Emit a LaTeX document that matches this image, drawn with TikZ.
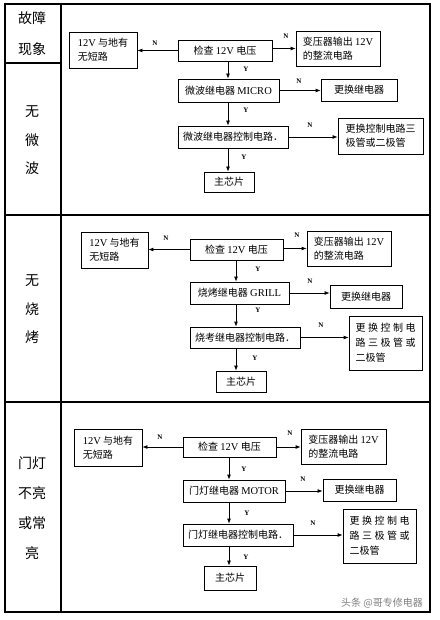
\documentclass[tikz,border=0pt]{standalone}
\usepackage{fontspec}
\setmainfont{Liberation Serif}
\newfontfamily\cjk{Noto Sans CJK SC}
\usetikzlibrary{arrows.meta}
\newcommand\en[1]{{\rmfamily\fontsize{10.5}{14}\selectfont #1}}
\newcommand\mybox[6]{\node[box,minimum width=#4pt,minimum height=#5pt] (#1) at (#2,#3) {#6};}
\newcommand\spc[1]{\makebox[60pt][s]{#1}}
\begin{document}
\begin{tikzpicture}[x=1pt,y=-1pt,
  box/.style={draw, line width=0.8pt, inner sep=0pt, align=left, font=\cjk\fontsize{10}{14}\selectfont},
  arr/.style={line width=0.8pt, -{Latex[length=5pt,width=4pt]}},
  yn/.style={font=\fontsize{7}{8}\selectfont\bfseries, inner sep=0pt},
  side/.style={font=\cjk\fontsize{14}{16}\selectfont, inner sep=0pt},
  frame/.style={line width=1.3pt}]
\useasboundingbox (0,0) rectangle (439,620);
% table
\coordinate (tl) at (5,4);
\coordinate (br) at (430,612);
\coordinate (colx) at (61,0);
\draw[frame] (tl) rectangle (br);
\draw[frame] (colx |- tl) -- (colx |- br);
\draw[frame] (5,63) -- (61,63);
\draw[frame] (5,215) -- (430,215);
\draw[frame] (5,402) -- (430,402);
% side labels
\node[side] (s0a) at (32,18) {故障};
\node[side] (s0b) at (32,49) {现象};
\node[side] (s1a) at (32,112) {无};
\node[side] (s1b) at (32,140) {微};
\node[side] (s1c) at (32,168) {波};
\node[side] (s2a) at (32,281) {无};
\node[side] (s2b) at (32,309) {烧};
\node[side] (s2c) at (32,337) {烤};
\node[side] (s3a) at (32,463) {门灯};
\node[side] (s3b) at (32,493) {不亮};
\node[side] (s3c) at (32,523) {或常};
\node[side] (s3d) at (32,553) {亮};
% ---------- section 1
\mybox{a1}{103}{50}{68}{36}{\en{12V} 与地有\\无短路}
\mybox{k1}{225}{50.5}{94}{21}{检查 \en{12V} 电压}
\mybox{t1}{338}{48.5}{84}{35}{变压器输出 \en{12V}\\的整流电路}
\mybox{r1}{228.5}{90.5}{101}{23}{微波继电器 \en{MICRO}}
\mybox{h1}{359}{90}{76}{22}{更换继电器}
\mybox{c1}{233}{137}{110}{22}{微波继电器控制电路．}
\mybox{p1}{380.5}{136}{85}{36}{更换控制电路三\\极管或二极管}
\mybox{m1}{229}{182}{50}{20}{主芯片}
\coordinate (v1) at (228,0);
\draw[arr] (k1.west) -- (k1.west -| a1.east);
\draw[arr] (t1.west -| k1.east) -- (t1.west);
\draw[arr] (k1.south -| v1) -- (r1.north -| v1);
\draw[arr] (r1.east) -- (r1.east -| h1.west);
\draw[arr] (r1.south -| v1) -- (c1.north -| v1);
\draw[arr] (c1.east) -- (c1.east -| p1.west);
\draw[arr] (c1.south -| v1) -- (m1.north -| v1);
\node[yn] (n1a) at (155,43) {N};
\node[yn] (n1b) at (286,36) {N};
\node[yn] (y1a) at (246,69) {Y};
\node[yn] (n1c) at (299,81) {N};
\node[yn] (y1b) at (246,110) {Y};
\node[yn] (n1d) at (310,125) {N};
\node[yn] (y1c) at (244,157) {Y};
% ---------- section 2
\mybox{a2}{114.5}{250}{67}{36}{\en{12V} 与地有\\无短路}
\mybox{k2}{236.5}{249.5}{93}{21}{检查 \en{12V} 电压}
\mybox{t2}{349}{248.5}{84}{35}{变压器输出 \en{12V}\\的整流电路}
\mybox{r2}{239.5}{293}{99}{22}{烧烤继电器 \en{GRILL}}
\mybox{h2}{366}{296.5}{72}{23}{更换继电器}
\mybox{c2}{245}{337.5}{110}{21}{烧考继电器控制电路．}
\node[box,minimum width=73pt,minimum height=54pt,font=\cjk\fontsize{10}{15}\selectfont] (p2) at (385.5,343)
  {\spc{更\hfill 换\hfill 控\hfill 制\hfill 电}\\\spc{路\hfill 三\hfill 极\hfill 管\hfill 或}\\二极管};
\mybox{m2}{241}{381.5}{50}{21}{主芯片}
\coordinate (v2) at (236,0);
\draw[arr] (k2.west) -- (k2.west -| a2.east);
\draw[arr] (t2.west -| k2.east) -- (t2.west);
\draw[arr] (k2.south -| v2) -- (r2.north -| v2);
\draw[arr] (r2.east) -- (r2.east -| h2.west);
\draw[arr] (r2.south -| v2) -- (c2.north -| v2);
\draw[arr] (c2.east) -- (c2.east -| p2.west);
\draw[arr] (c2.south -| v2) -- (m2.north -| v2);
\node[yn] (n2a) at (166,238) {N};
\node[yn] (n2b) at (297,235) {N};
\node[yn] (y2a) at (258,269) {Y};
\node[yn] (n2c) at (310,281) {N};
\node[yn] (y2b) at (258,310) {Y};
\node[yn] (n2d) at (321,325) {N};
\node[yn] (y2c) at (255,358) {Y};
% ---------- section 3
\mybox{a3}{108}{447.5}{68}{37}{\en{12V} 与地有\\无短路}
\mybox{k3}{229.5}{447}{93}{20}{检查 \en{12V} 电压}
\mybox{t3}{343.5}{446.5}{85}{35}{变压器输出 \en{12V}\\的整流电路}
\mybox{r3}{234}{491}{102}{22}{门灯继电器 \en{MOTOR}}
\mybox{h3}{359.5}{490}{73}{22}{更换继电器}
\mybox{c3}{238}{535}{110}{22}{门灯继电器控制电路．}
\node[box,minimum width=73pt,minimum height=54pt,font=\cjk\fontsize{10}{15}\selectfont] (p3) at (379.5,536)
  {\spc{更\hfill 换\hfill 控\hfill 制\hfill 电}\\\spc{路\hfill 三\hfill 极\hfill 管\hfill 或}\\二极管};
\mybox{m3}{230}{578}{52}{24}{主芯片}
\coordinate (v3) at (229,0);
\draw[arr] (k3.west) -- (k3.west -| a3.east);
\draw[arr] (k3.east) -- (k3.east -| t3.west);
\draw[arr] (k3.south -| v3) -- (r3.north -| v3);
\draw[arr] (r3.east) -- (r3.east -| h3.west);
\draw[arr] (r3.south -| v3) -- (c3.north -| v3);
\draw[arr] (c3.east) -- (c3.east -| p3.west);
\draw[arr] (c3.south -| v3) -- (m3.north -| v3);
\node[yn] (n3a) at (160,437) {N};
\node[yn] (n3b) at (290,433) {N};
\node[yn] (y3a) at (244,469) {Y};
\node[yn] (n3c) at (303,479) {N};
\node[yn] (y3b) at (247,513) {Y};
\node[yn] (n3d) at (313,523) {N};
\node[yn] (y3c) at (246,557) {Y};
% watermark
\node[font=\cjk\fontsize{10}{12}\selectfont, text=gray, inner sep=0pt] (wm) at (382,603) {头条 @哥专修电器};
\end{tikzpicture}
\end{document}
